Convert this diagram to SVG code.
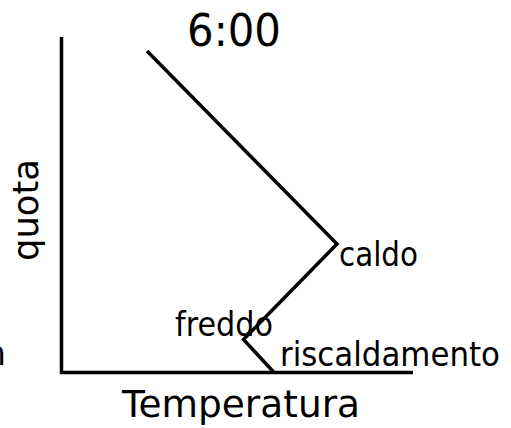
<svg xmlns="http://www.w3.org/2000/svg" width="511" height="428" viewBox="0 0 511 428">
<style>
.t{font-family:"DejaVu Sans","Liberation Sans",sans-serif;fill:#000}
.ln{stroke:#000;stroke-width:3.5;fill:none;stroke-linecap:butt;stroke-linejoin:miter}
</style>
<rect width="511" height="428" fill="#fff"/>
<g id="connectors">
<path id="axes" class="ln" d="M61.5,37 V372.5 H413"/>
<path id="profile" class="ln" d="M147,51 L337,244 L243.5,339.5 L274.5,373"/>
</g>
<g id="title"><text class="t" x="187" y="45.5" font-size="44" textLength="94" lengthAdjust="spacingAndGlyphs">6:00</text></g>
<g id="yaxis-label"><text class="t" font-size="35" text-anchor="middle" textLength="102" lengthAdjust="spacingAndGlyphs" transform="translate(38,210) rotate(-90)">quota</text></g>
<g id="xaxis-label"><text class="t" x="122" y="416.5" font-size="37" textLength="238" lengthAdjust="spacingAndGlyphs">Temperatura</text></g>
<g id="caldo"><text class="t" x="339" y="265.5" font-size="33" textLength="79" lengthAdjust="spacingAndGlyphs">caldo</text></g>
<g id="freddo"><text class="t" x="175" y="336" font-size="33" textLength="98" lengthAdjust="spacingAndGlyphs">freddo</text></g>
<g id="riscaldamento"><text class="t" x="280" y="366" font-size="33" textLength="220" lengthAdjust="spacingAndGlyphs">riscaldamento</text></g>
<g id="cut-text"><text class="t" x="-15" y="365" font-size="33">n</text></g>
</svg>
